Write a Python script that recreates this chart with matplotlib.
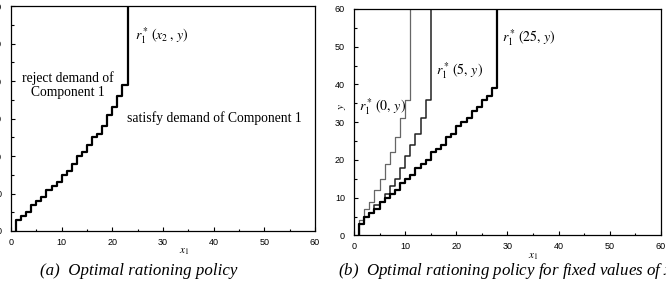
import numpy as np
import matplotlib.pyplot as plt
from matplotlib.ticker import MultipleLocator

plt.rcParams['font.family'] = 'Liberation Sans'
plt.rcParams['mathtext.fontset'] = 'stix'
plt.rcParams['font.size'] = 6.5

# (a) r1*(x2, y): step positions along x1 and y level held after each step
a_x = [1, 1, 2, 3, 4, 5, 6, 7, 8, 9, 10, 11, 12, 13, 14, 15, 16, 17, 18, 19, 20, 21, 22, 23, 23]
a_y = [0, 3, 4, 5, 7, 8, 9, 11, 12, 13, 15, 16, 18, 20, 21, 23, 25, 26, 28, 31, 33, 36, 39, 39, 60]

# (b) r1*(0, y)
b0_x = [1, 1, 2, 3, 4, 5, 6, 7, 8, 9, 10, 11, 11]
b0_y = [0, 4, 7, 9, 12, 15, 19, 22, 26, 31, 36, 36, 60]
# (b) r1*(5, y)
b5_x = [1, 1, 2, 3, 4, 5, 6, 7, 8, 9, 10, 11, 12, 13, 14, 15, 15]
b5_y = [0, 3, 5, 6, 8, 9, 11, 13, 15, 18, 21, 24, 27, 31, 36, 36, 60]
# (b) r1*(25, y)
b25_x = [1, 1, 2, 3, 4, 5, 6, 7, 8, 9, 10, 11, 12, 13, 14, 15, 16, 17, 18, 19, 20,
         21, 22, 23, 24, 25, 26, 27, 28, 28]
b25_y = [0, 3, 5, 6, 7, 9, 10, 11, 12, 14, 15, 16, 18, 19, 20, 22, 23, 24, 26, 27, 29,
         30, 31, 33, 34, 36, 37, 39, 39, 60]

fig = plt.figure(figsize=(6.66, 2.81), dpi=100)
ax1 = fig.add_axes([0.0165, 0.178, 0.4565, 0.80])
ax2 = fig.add_axes([0.5315, 0.162, 0.461, 0.806])


def style(ax):
    ax.set_xlim(0, 60)
    ax.set_ylim(0, 60)
    ax.xaxis.set_major_locator(MultipleLocator(10))
    ax.yaxis.set_major_locator(MultipleLocator(10))
    ax.xaxis.set_minor_locator(MultipleLocator(5))
    ax.yaxis.set_minor_locator(MultipleLocator(5))
    ax.tick_params(which='both', direction='in', width=0.8)
    ax.tick_params(axis='x', which='both', pad=5)
    ax.tick_params(axis='y', which='both', pad=6.5)
    ax.tick_params(which='major', length=3)
    ax.tick_params(which='minor', length=1.8)
    for s in ax.spines.values():
        s.set_linewidth(0.9)


style(ax1)
style(ax2)

ax1.step(a_x, a_y, where='post', color='black', lw=1.6)
ax1.text(24.5, 51, r'$r_1^*\,(x_2\,,\,y)$', fontsize=10)
ax1.text(11.3, 39, 'reject demand of\nComponent 1', fontsize=9.8,
         family='Liberation Serif', ha='center', va='center', linespacing=1.1)
ax1.text(22.8, 30, 'satisfy demand of Component 1', fontsize=9.8,
         family='Liberation Serif', va='center')
ax1.set_xlabel(r'$x_1$', fontsize=8)
ax1.xaxis.set_label_coords(0.57, -0.07)

ax2.step(b0_x, b0_y, where='post', color='#666666', lw=0.9)
ax2.step(b5_x, b5_y, where='post', color='#222222', lw=1.1)
ax2.step(b25_x, b25_y, where='post', color='black', lw=1.6)
ax2.text(0.9, 34, r'$r_1^*\,(0,\,y)$', fontsize=10, va='center')
ax2.text(16, 43.6, r'$r_1^*\,(5,\,y)$', fontsize=10, va='center')
ax2.text(29, 52.5, r'$r_1^*\,(25,\,y)$', fontsize=10, va='center')
ax2.set_xlabel(r'$x_1$', fontsize=8)
ax2.xaxis.set_label_coords(0.583, -0.072)
ax2.set_ylabel(r'$y$', fontsize=8)
ax2.yaxis.set_label_coords(-0.02, 0.57)

fig.text(40 / 666, 0.035, r'(a)  Optimal rationing policy', fontsize=12.2,
         family='Liberation Serif', style='italic', va='center')
fig.text(338 / 666, 0.035, r'(b)  Optimal rationing policy for fixed values of $x_2$',
         fontsize=12.2, family='Liberation Serif', style='italic', va='center')

fig.savefig('out.png', dpi=100)
